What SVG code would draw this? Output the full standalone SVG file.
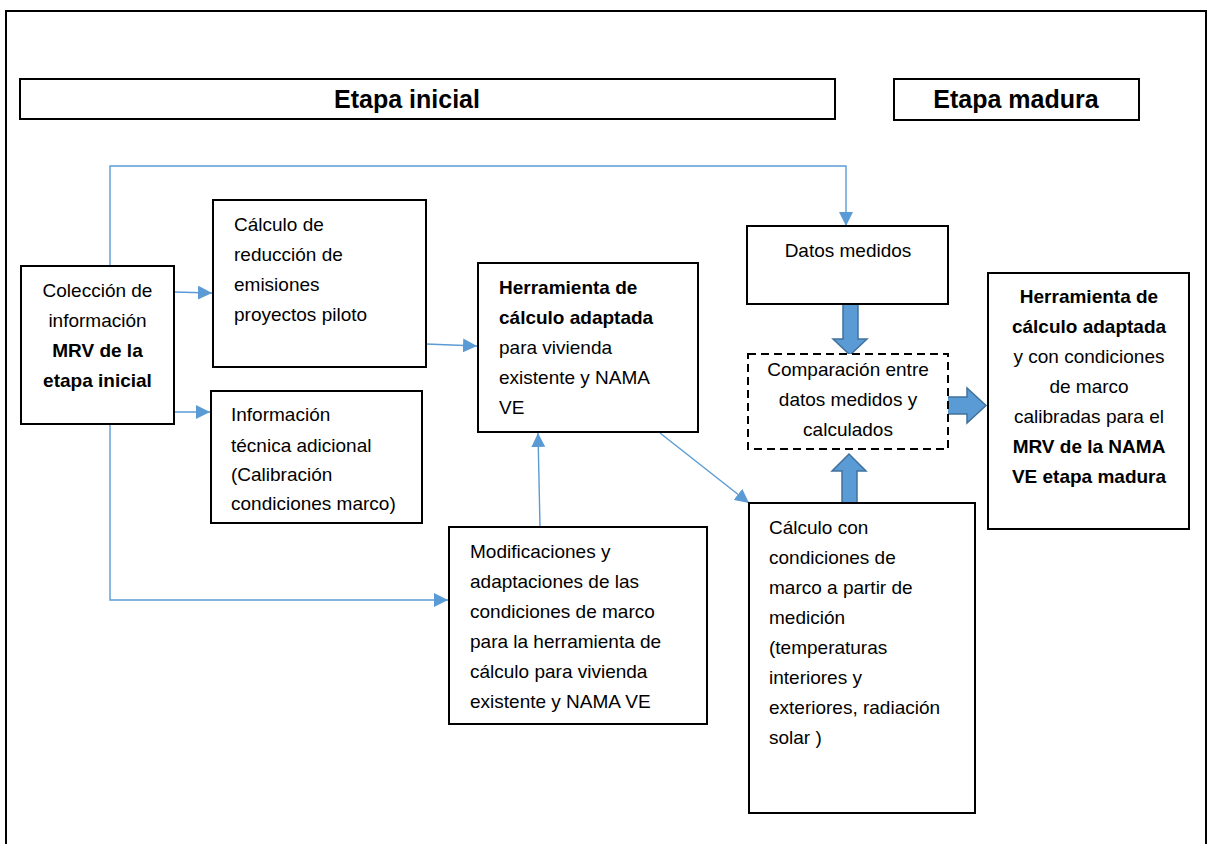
<svg xmlns="http://www.w3.org/2000/svg" width="1209" height="844" viewBox="0 0 1209 844">
<style>
.box{fill:#fff;stroke:#000;stroke-width:2}
.dash{fill:#fff;stroke:#000;stroke-width:2;stroke-dasharray:8,5}
.t{font-family:"Liberation Sans",Arial,sans-serif;font-size:19px;fill:#000}
.b{font-weight:bold}
.c{text-anchor:middle}
.h{font-family:"Liberation Sans",Arial,sans-serif;font-size:25px;font-weight:bold;fill:#000;text-anchor:middle}
.con{fill:none;stroke:#5B9BD5;stroke-width:1.4}
.blk{fill:#5B9BD5;stroke:#41719C;stroke-width:1.5}
</style>
<defs>
<marker id="ah" viewBox="0 0 14 14" refX="14" refY="7" markerWidth="14" markerHeight="14" markerUnits="userSpaceOnUse" orient="auto">
<path d="M0,0 L14,7 L0,14 Z" fill="#5B9BD5"/>
</marker>
</defs>
<rect width="1209" height="844" fill="#fff"/>
<rect x="6" y="11" width="1200" height="850" fill="none" stroke="#000" stroke-width="2"/>

<g id="header-inicial"><rect class="box" x="20" y="79" width="815" height="40"/><text class="h" x="407" y="108">Etapa inicial</text></g>
<g id="header-madura"><rect class="box" x="894" y="79" width="245" height="41"/><text class="h" x="1016" y="108">Etapa madura</text></g>

<g id="connectors">
<path class="con" d="M110,266 V166 H846 V226" marker-end="url(#ah)"/>
<path class="con" d="M110,424 V600 H448" marker-end="url(#ah)"/>
<path class="con" d="M174,292 L212,293" marker-end="url(#ah)"/>
<path class="con" d="M174,412 L210,412" marker-end="url(#ah)"/>
<path class="con" d="M426,344 L477,346" marker-end="url(#ah)"/>
<path class="con" d="M540,527 L538,433" marker-end="url(#ah)"/>
<path class="con" d="M660,433 L749,503" marker-end="url(#ah)"/>
<polygon class="blk" points="843,304 858,304 858,339 867,339 850,355 833,339 843,339"/>
<polygon class="blk" points="842,505 857,505 857,471 866,471 849,454 832,471 842,471"/>
<polygon class="blk" points="946,397 967,397 967,388 986,405.5 967,423 967,414 946,414"/>
</g>

<g id="n-coleccion"><rect class="box" x="21" y="266" width="153" height="158"/>
<text class="t c" x="97.5" y="297">Colección de</text>
<text class="t c" x="97.5" y="327">información</text>
<text class="t c b" x="97.5" y="357">MRV de la</text>
<text class="t c b" x="97.5" y="387">etapa inicial</text></g>

<g id="n-calculo-reduccion"><rect class="box" x="213" y="200" width="213" height="167"/>
<text class="t" x="234" y="231">Cálculo de</text>
<text class="t" x="234" y="261">reducción de</text>
<text class="t" x="234" y="291">emisiones</text>
<text class="t" x="234" y="321">proyectos piloto</text></g>

<g id="n-informacion"><rect class="box" x="211" y="391" width="211" height="132"/>
<text class="t" x="231" y="421">Información</text>
<text class="t" x="231" y="452">técnica adicional</text>
<text class="t" x="231" y="481">(Calibración</text>
<text class="t" x="231" y="510">condiciones marco)</text></g>

<g id="n-herramienta"><rect class="box" x="478" y="263" width="220" height="169"/>
<text class="t b" x="499" y="294">Herramienta de</text>
<text class="t b" x="499" y="324">cálculo adaptada</text>
<text class="t" x="499" y="354">para vivienda</text>
<text class="t" x="499" y="384">existente y NAMA</text>
<text class="t" x="499" y="414">VE</text></g>

<g id="n-modificaciones"><rect class="box" x="449" y="527" width="258" height="197"/>
<text class="t" x="470" y="558">Modificaciones y</text>
<text class="t" x="470" y="588">adaptaciones de las</text>
<text class="t" x="470" y="618">condiciones de marco</text>
<text class="t" x="470" y="648">para la herramienta de</text>
<text class="t" x="470" y="678">cálculo para vivienda</text>
<text class="t" x="470" y="708">existente y NAMA VE</text></g>

<g id="n-datos"><rect class="box" x="747" y="226" width="201" height="78"/>
<text class="t c" x="848" y="257">Datos medidos</text></g>

<g id="n-comparacion"><rect class="dash" x="748" y="354" width="200" height="95"/>
<text class="t c" x="848" y="376">Comparación entre</text>
<text class="t c" x="848" y="406">datos medidos y</text>
<text class="t c" x="848" y="436">calculados</text></g>

<g id="n-calculo-con"><rect class="box" x="749" y="503" width="226" height="310"/>
<text class="t" x="769" y="534">Cálculo con</text>
<text class="t" x="769" y="564">condiciones de</text>
<text class="t" x="769" y="594">marco a partir de</text>
<text class="t" x="769" y="624">medición</text>
<text class="t" x="769" y="654">(temperaturas</text>
<text class="t" x="769" y="684">interiores y</text>
<text class="t" x="769" y="714">exteriores, radiación</text>
<text class="t" x="769" y="744">solar )</text></g>

<g id="n-herramienta-madura"><rect class="box" x="988" y="273" width="201" height="256"/>
<text class="t c b" x="1089" y="303">Herramienta de</text>
<text class="t c b" x="1089" y="333">cálculo adaptada</text>
<text class="t c" x="1089" y="363">y con condiciones</text>
<text class="t c" x="1089" y="393">de marco</text>
<text class="t c" x="1089" y="423">calibradas para el</text>
<text class="t c b" x="1089" y="453">MRV de la NAMA</text>
<text class="t c b" x="1089" y="483">VE etapa madura</text></g>
</svg>
